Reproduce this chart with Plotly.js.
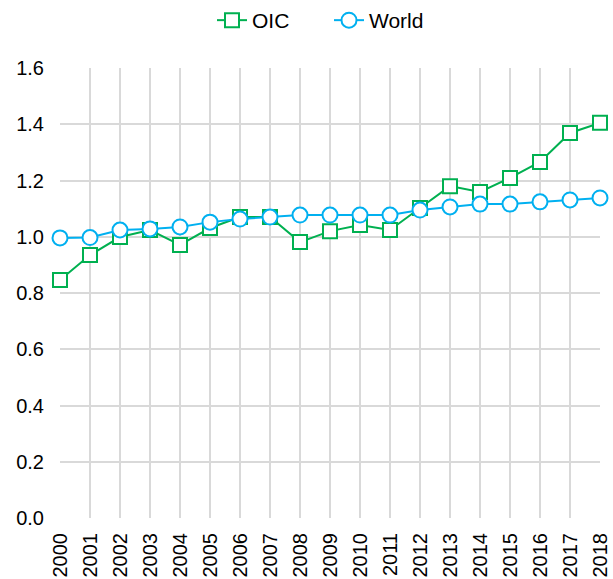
<!DOCTYPE html>
<html>
<head>
<meta charset="utf-8">
<script src="https://cdn.plot.ly/plotly-3.0.1.min.js"></script>
<style>html,body{margin:0;padding:0;background:#fff;}#chart{width:613px;height:579px;}</style>
</head>
<body>
<div id="chart"></div>
<script>
const years = [2000,2001,2002,2003,2004,2005,2006,2007,2008,2009,2010,2011,2012,2013,2014,2015,2016,2017,2018];
const oic = [0.846,0.935,0.999,1.024,0.971,1.031,1.070,1.070,0.981,1.020,1.042,1.024,1.102,1.180,1.159,1.209,1.266,1.369,1.405];
const world = [0.996,0.997,1.024,1.028,1.035,1.052,1.063,1.070,1.077,1.077,1.077,1.077,1.095,1.106,1.116,1.116,1.124,1.131,1.138];
const yTicks = [0,0.2,0.4,0.6,0.8,1.0,1.2,1.4,1.6];

const traces = [
  {x: years, y: oic, name: 'OIC', mode: 'lines+markers', type: 'scatter', cliponaxis: false,
   line: {color: '#00B050', width: 2},
   marker: {symbol: 'square', size: 14, color: '#ffffff', line: {color: '#00B050', width: 2}}},
  {x: years, y: world, name: 'World', mode: 'lines+markers', type: 'scatter', cliponaxis: false,
   line: {color: '#00B0F0', width: 2},
   marker: {symbol: 'circle', size: 15, color: '#ffffff', line: {color: '#00B0F0', width: 2}}}
];

const layout = {
  width: 613, height: 579,
  margin: {l: 60, r: 13, t: 68, b: 61},
  paper_bgcolor: '#ffffff', plot_bgcolor: '#ffffff',
  font: {family: '"Liberation Sans", Arial, sans-serif', size: 20, color: '#000000'},
  showlegend: true,
  legend: {orientation: 'h', xref: 'container', x: 212 / 613, xanchor: 'left',
           yref: 'container', y: 1.0, yanchor: 'top',
           font: {size: 21}, traceorder: 'normal', entrywidth: 72, entrywidthmode: 'pixels'},
  xaxis: {range: [2000, 2018], tickmode: 'array', tickvals: years, ticktext: years.map(String),
          tickangle: -90, showgrid: true, gridcolor: '#d9d9d9', gridwidth: 2, zeroline: false,
          showline: false, ticks: '', ticklen: 0, tickfont: {size: 20}, ticklabelstandoff: 10},
  yaxis: {range: [0, 1.6], tickmode: 'array', tickvals: yTicks, ticktext: yTicks.map(v => v.toFixed(1)),
          showgrid: true, gridcolor: '#d9d9d9', gridwidth: 2, zeroline: false, showline: false,
          ticks: '', tickfont: {size: 20}, ticklabelstandoff: 15}
};

Plotly.newPlot('chart', traces, layout, {displayModeBar: false, staticPlot: true});
</script>
</body>
</html>
